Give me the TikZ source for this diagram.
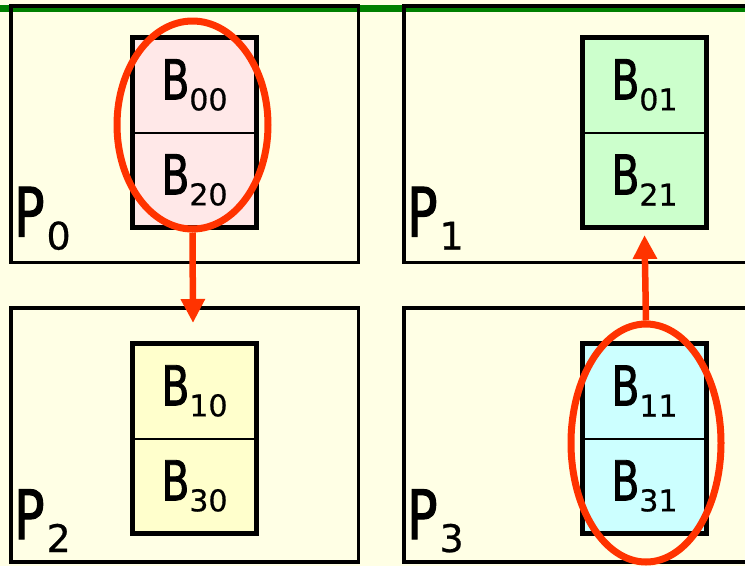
\documentclass[tikz,border=0pt]{standalone}
\usepackage{fontspec}
\usepackage{tikz}
\usetikzlibrary{arrows.meta,fit,positioning,shapes.geometric}
\newfontfamily\bklet[FakeStretch=0.74,FakeBold=1.5]{DejaVu Sans}
\newfontfamily\bkdig[FakeBold=0.6]{DejaVu Sans}
\newcommand{\bklab}[1]{{\bklet\fontsize{55}{60}\selectfont B}\kern0pt\raisebox{-11pt}{\bkdig\fontsize{30}{32}\selectfont #1}}
\newcommand{\prlab}[1]{{\bklet\fontsize{68}{72}\selectfont P}\kern2pt\raisebox{-13pt}{\bkdig\fontsize{38}{40}\selectfont #1}}
\definecolor{bkpaper}{RGB}{255,255,229}
\definecolor{bkgreen}{RGB}{0,128,0}
\definecolor{bkred}{RGB}{255,51,0}
\definecolor{bkpink}{RGB}{255,232,232}
\definecolor{bkmint}{RGB}{204,255,204}
\definecolor{bkcream}{RGB}{255,255,204}
\definecolor{bkcyan}{RGB}{204,255,255}
\tikzset{
  bkpanel/.style={draw=black, line width=3.5pt, anchor=north west, inner sep=0pt, outer sep=0pt},
  bkcell/.style={draw=black, line width=2pt, minimum width=124pt, minimum height=95pt, inner sep=0pt, outer sep=0pt},
  bkblock/.style={draw=black, line width=5pt, inner sep=0pt},
  bkring/.style={draw=bkred, ellipse, line width=7pt, inner sep=0pt},
  bkplab/.style={anchor=base west, inner sep=0pt},
  bkarr/.style={-{Triangle[width=23pt, length=24pt]}, line width=6.5pt, draw=bkred}
}
\begin{document}
\begin{tikzpicture}[x=1pt, y=-1pt]
  \clip (0,0) rectangle (745,566);
  \fill[bkpaper] (0,0) rectangle (745,566);
  \draw[bkgreen, line width=7pt] (0,8.5) -- (745,8.5);
  \node[bkpanel, minimum width=347.5pt, minimum height=256.5pt] (p0) at (11,6) {};
  \node[bkpanel, minimum width=360pt, minimum height=256.5pt] (p1) at (404,6) {};
  \node[bkpanel, minimum width=347.5pt, minimum height=254pt] (p2) at (11,308) {};
  \node[bkpanel, minimum width=360pt, minimum height=254pt] (p3) at (404,308) {};
  \node[bkcell, fill=bkpink] (c00) at (194.5,85) {\bklab{00}};
  \node[bkcell, fill=bkpink, below=0pt of c00] (c20) {\bklab{20}};
  \node[bkblock, fit=(c00)(c20)] (blk0) {};
  \node[bkcell, fill=bkmint] (c01) at (644.5,85) {\bklab{01}};
  \node[bkcell, fill=bkmint, below=0pt of c01] (c21) {\bklab{21}};
  \node[bkblock, fit=(c01)(c21)] (blk1) {};
  \node[bkcell, fill=bkcream] (c10) at (194.5,391) {\bklab{10}};
  \node[bkcell, fill=bkcream, below=0pt of c10] (c30) {\bklab{30}};
  \node[bkblock, fit=(c10)(c30)] (blk2) {};
  \node[bkcell, fill=bkcyan] (c11) at (644.5,391) {\bklab{11}};
  \node[bkcell, fill=bkcyan, below=0pt of c11] (c31) {\bklab{31}};
  \node[bkblock, fit=(c11)(c31)] (blk3) {};
  \node[bkplab] (l0) at ([xshift=3pt, yshift=26pt]p0.south west) {\prlab{0}};
  \node[bkplab] (l1) at ([xshift=3pt, yshift=26pt]p1.south west) {\prlab{1}};
  \node[bkplab] (l2) at ([xshift=3pt, yshift=23pt]p2.south west) {\prlab{2}};
  \node[bkplab] (l3) at ([xshift=3pt, yshift=23pt]p3.south west) {\prlab{3}};
  \node[bkring, minimum width=151pt, minimum height=208pt] (e0) at (192.5,125) {};
  \node[bkring, minimum width=150pt, minimum height=238pt] (e3) at (646,443) {};
  \coordinate (t0) at (193,323);
  \draw[bkarr] (e0.south) -- (t0);
  \draw[bkarr] (e3.north) -- ([yshift=-5pt]blk1.south);
\end{tikzpicture}
\end{document}
